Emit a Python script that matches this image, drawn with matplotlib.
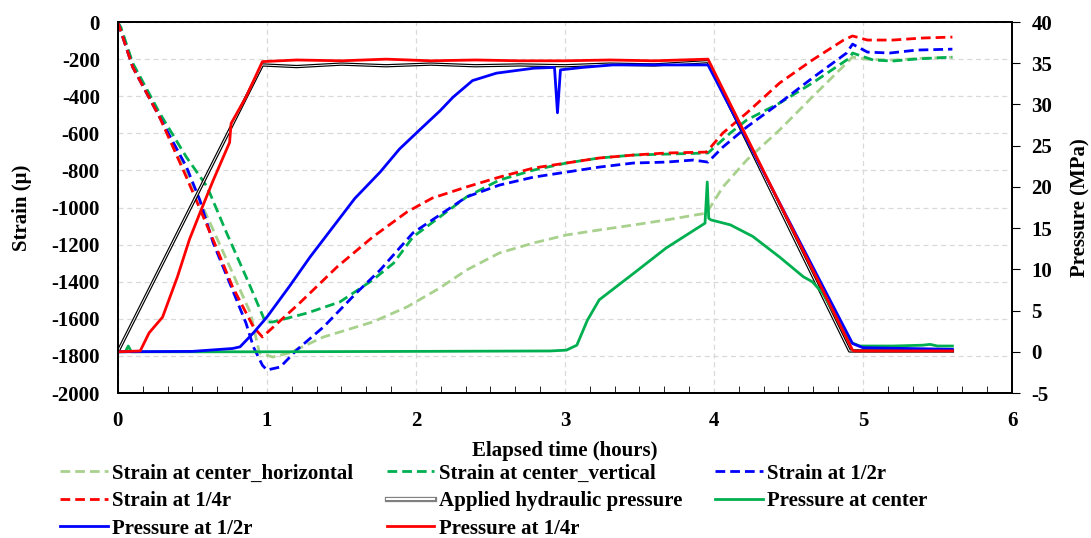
import numpy as np
import matplotlib
matplotlib.use("Agg")
from matplotlib import pyplot as plt
from matplotlib import patheffects as pe
from matplotlib.lines import Line2D
from matplotlib.ticker import MultipleLocator

plt.rcParams['font.family'] = ['Liberation Serif', 'DejaVu Serif']
plt.rcParams['font.weight'] = 'bold'
plt.rcParams['axes.unicode_minus'] = False

# strain series (left axis, micro-strain)
t_s_horiz = [0, 0.1, 0.28, 0.46, 0.55, 0.64, 0.77, 0.89, 0.95, 1.04, 1.15, 1.38, 1.71, 1.94,
             2.16, 2.34, 2.56, 2.79, 3.01, 3.23, 3.46, 3.68, 3.95, 4.06, 4.22, 4.44, 4.66,
             4.89, 4.93, 5.02, 5.2, 5.4, 5.6]
s_horiz = [0, -243, -512, -800, -960, -1121, -1353, -1569, -1784, -1806, -1784, -1698, -1617,
           -1536, -1434, -1337, -1245, -1191, -1148, -1121, -1094, -1067, -1030, -889, -744,
           -582, -404, -221, -189, -200, -205, -195, -190]

t_s_vert = [0, 0.02, 0.1, 0.28, 0.46, 0.6, 0.73, 0.87, 0.99, 1.04, 1.27, 1.49, 1.71, 1.85,
            1.98, 2.16, 2.34, 2.56, 2.79, 3.01, 3.23, 3.46, 3.68, 3.96, 4.11, 4.22, 4.44,
            4.66, 4.91, 4.93, 5.07, 5.2, 5.36, 5.6]
s_vert = [0, -27, -221, -490, -728, -889, -1137, -1391, -1617, -1617, -1569, -1509, -1391,
          -1300, -1159, -1051, -943, -852, -798, -760, -733, -717, -712, -706, -598, -528,
          -437, -329, -194, -167, -205, -210, -199, -189]

t_s_half = [0, 0.1, 0.28, 0.46, 0.55, 0.64, 0.77, 0.86, 0.91, 0.97, 1.0, 1.09, 1.2, 1.38,
            1.6, 1.76, 1.98, 2.16, 2.34, 2.56, 2.79, 3.01, 3.23, 3.46, 3.68, 3.86, 3.96,
            4.06, 4.22, 4.44, 4.66, 4.89, 4.93, 5.03, 5.18, 5.36, 5.6]
s_half = [0, -243, -512, -780, -960, -1191, -1445, -1623, -1752, -1850, -1876, -1860, -1768,
          -1644, -1461, -1337, -1137, -1040, -943, -879, -836, -809, -782, -760, -755, -744,
          -755, -674, -566, -437, -302, -167, -119, -162, -167, -151, -146]

t_s_quarter = [0, 0.1, 0.28, 0.46, 0.64, 0.77, 0.91, 0.97, 1.22, 1.47, 1.71, 1.94, 2.11, 2.34,
               2.56, 2.79, 3.01, 3.23, 3.46, 3.68, 3.95, 4.06, 4.22, 4.44, 4.66, 4.87, 4.93,
               5.03, 5.2, 5.4, 5.6]
s_quarter = [0, -243, -512, -836, -1175, -1428, -1644, -1698, -1515, -1321, -1159, -1024, -949,
             -889, -836, -787, -760, -733, -717, -706, -701, -598, -490, -329, -205, -97, -75,
             -97, -97, -86, -81]

# pressure series (right axis, MPa)
t_p_applied = [0, 0.97, 1.2, 1.5, 1.8, 2.1, 2.4, 2.7, 3.0, 3.3, 3.6, 3.96, 4.91, 4.93, 5.2, 5.6]
p_applied = [0, 34.8, 34.6, 34.9, 34.7, 34.9, 34.7, 34.8, 34.7, 34.9, 34.8, 35.2, 0.1, 0.1,
             0.1, 0.1]

t_p_center = [0, 0.05, 0.07, 0.09, 0.5, 1.0, 2.0, 2.9, 3.01, 3.08, 3.15, 3.23, 3.46, 3.68,
              3.94, 3.955, 3.965, 3.98, 4.11, 4.26, 4.44, 4.6, 4.66, 4.73, 4.8, 4.91, 4.98,
              5.2, 5.4, 5.45, 5.5, 5.6]
p_center = [0, 0, 0.7, 0, 0, 0, 0.05, 0.1, 0.2, 0.8, 3.8, 6.3, 9.5, 12.6, 15.6, 20.6, 16.2,
            16.0, 15.4, 14.0, 11.5, 9.1, 8.5, 7.1, 4.9, 1.2, 0.7, 0.7, 0.8, 0.9, 0.7, 0.7]

t_p_half = [0, 0.5, 0.77, 0.82, 0.91, 1.0, 1.15, 1.29, 1.59, 1.76, 1.89, 2.03, 2.16, 2.25,
            2.38, 2.54, 2.79, 2.93, 2.95, 2.97, 3.12, 3.32, 3.96, 4.93, 5.0, 5.3, 5.6]
p_half = [0, 0.05, 0.4, 0.6, 2.3, 4.2, 7.9, 11.5, 18.6, 21.8, 24.6, 27.0, 29.2, 30.9,
          32.9, 33.8, 34.4, 34.5, 29.0, 34.2, 34.5, 34.8, 34.8, 1.0, 0.5, 0.4, 0.3]

t_p_quarter = [0, 0.15, 0.21, 0.3, 0.4, 0.48, 0.55, 0.64, 0.75, 0.76, 0.86, 0.97, 1.2, 1.5,
               1.8, 2.1, 2.4, 2.7, 3.0, 3.3, 3.6, 3.96, 4.93, 4.94, 5.6]
p_quarter = [0, 0.1, 2.3, 4.2, 9.1, 13.6, 16.8, 20.8, 25.4, 27.7, 30.9, 35.2, 35.4, 35.3, 35.5,
             35.3, 35.4, 35.3, 35.3, 35.4, 35.3, 35.5, 0.2, 0.1, 0.1]

c_light = '#A9D18E'
c_green = '#00B050'
c_blue = '#0000FF'
c_red = '#FF0000'

fig = plt.figure(figsize=(10.91, 5.38), dpi=100)
ax = fig.add_axes([0.108, 0.2695, 0.8196, 0.6895])
ax2 = ax.twinx()

dash = (3.5, 1.8)
h1, = ax.plot(t_s_horiz, s_horiz, color=c_light, lw=2, dashes=dash)
h2, = ax.plot(t_s_vert, s_vert, color=c_green, lw=2, dashes=dash)
h3, = ax.plot(t_s_half, s_half, color=c_blue, lw=2, dashes=dash)
h4, = ax.plot(t_s_quarter, s_quarter, color=c_red, lw=2, dashes=dash)

# double line: black outline, white core
ax2.plot(t_p_applied, p_applied, color='white', lw=0.7,
         path_effects=[pe.Stroke(linewidth=2.4, foreground='black'), pe.Normal()])
h6, = ax2.plot(t_p_center, p_center, color=c_green, lw=2)
h7, = ax2.plot(t_p_half, p_half, color=c_blue, lw=2)
h8, = ax2.plot(t_p_quarter, p_quarter, color=c_red, lw=2)

h5 = Line2D([], [], color='white', lw=1.4,
            path_effects=[pe.Stroke(linewidth=3.8, foreground='#808080'), pe.Normal()])

ax.set_xlim(0, 6)
ax.set_ylim(-2000, 0)
ax2.set_ylim(-5, 40)
ax.xaxis.set_major_locator(MultipleLocator(1))
ax.xaxis.set_minor_locator(MultipleLocator(1 / 6))
ax.yaxis.set_major_locator(MultipleLocator(200))
ax2.yaxis.set_major_locator(MultipleLocator(5))

ax.grid(True, which='major', color='#D9D9D9', ls=(0, (4, 3)), lw=0.9)
ax.set_axisbelow(True)
ax.tick_params(axis='x', which='both', direction='in', labelsize=15, pad=13)
ax.tick_params(axis='x', which='major', length=0)
ax.tick_params(axis='x', which='minor', length=5)
ax.tick_params(axis='y', direction='in', length=0, labelsize=15, pad=13)
ax2.tick_params(axis='y', direction='out', length=6, labelsize=15, pad=8)
for sp in list(ax.spines.values()) + list(ax2.spines.values()):
    sp.set_linewidth(1.3)

ax.set_xlabel('Elapsed time (hours)', fontsize=15, fontweight='bold', labelpad=7)
ax.set_ylabel('Strain (μ)', fontsize=15, fontweight='bold', labelpad=14)
ax2.set_ylabel('Pressure (MPa)', fontsize=15, fontweight='bold', labelpad=13)

handles = [h1, h2, h3, h4, h5, h6, h7, h8]
labels = ['Strain at center_horizontal', 'Strain at center_vertical', 'Strain at 1/2r',
          'Strain at 1/4r', 'Applied hydraulic pressure', 'Pressure at center',
          'Pressure at 1/2r', 'Pressure at 1/4r']
order = [0, 3, 6, 1, 4, 7, 2, 5]
fig.legend([handles[i] for i in order], [labels[i] for i in order], ncol=3,
           loc='upper left', bbox_to_anchor=(0.055, 0.138), frameon=False,
           handlelength=2.3, handletextpad=0.2, columnspacing=1.6,
           labelspacing=0.36, borderaxespad=0, borderpad=0,
           prop={'weight': 'bold', 'size': 15})

fig.savefig('out.png', dpi=100)
